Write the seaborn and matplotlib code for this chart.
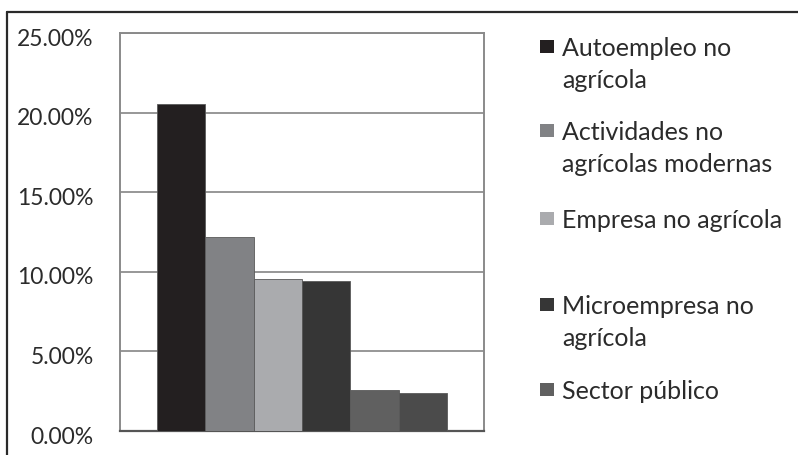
import matplotlib
matplotlib.use('Agg')
import matplotlib.pyplot as plt
import seaborn as sns
import pandas as pd
from matplotlib.patches import Rectangle
from matplotlib.lines import Line2D
from matplotlib.transforms import ScaledTranslation
from matplotlib.ticker import FuncFormatter

# Datos (porcentajes)
series = ["Autoempleo no agrícola", "Actividades no agrícolas modernas",
          "Empresa no agrícola", "Microempresa no agrícola",
          "Sector público", "Sin etiqueta"]
valores = [20.55, 12.2, 9.55, 9.4, 2.55, 2.4]
colores = ['#231f20', '#818285', '#aaabae', '#363636', '#606060', '#4b4b4b']
# Etiquetas visibles en la leyenda (la sexta serie no aparece)
etiquetas = [["Autoempleo no", "agrícola"], ["Actividades no", "agrícolas modernas"],
             ["Empresa no agrícola"], ["Microempresa no", "agrícola"], ["Sector público"]]
ticks_y = [0, 5, 10, 15, 20, 25]

sns.set_style('white')
plt.rcParams['font.family'] = ['Lato', 'DejaVu Sans']

W, H = 798, 455
fig = plt.figure(figsize=(W / 100, H / 100), dpi=100)
ax = fig.add_axes([120 / W, 1 - 431 / H, 364 / W, 398 / H])

df = pd.DataFrame({'serie': series, 'valor': valores})
sns.barplot(data=df, x='serie', y='valor', hue='serie', palette=colores,
            saturation=1, width=1.0, edgecolor='#5a5a5a', linewidth=0.6,
            legend=False, ax=ax, zorder=3)

ax.set_xlim(-1.266, 6.266)
ax.set_ylim(0, 25)
ax.set_yticks(ticks_y)
ax.yaxis.set_major_formatter(FuncFormatter(lambda v, p: f"{v:.2f}%"))
ax.set_xticks([])
ax.set_xlabel('')
ax.set_ylabel('')
ax.tick_params(axis='y', length=0, pad=19, labelsize=16.5, labelcolor='#2b2b2b')
for lab in ax.get_yticklabels():
    lab.set_transform(lab.get_transform() + ScaledTranslation(0, -4 / 100, fig.dpi_scale_trans))
ax.grid(axis='y', color='#8f8f8f', linewidth=1.3, zorder=0)
ax.set_axisbelow(True)
for s in ['left', 'top', 'right']:
    ax.spines[s].set_color('#8a8a8a')
    ax.spines[s].set_linewidth(1.4)
ax.spines['bottom'].set_color('#555555')
ax.spines['bottom'].set_linewidth(1.6)

# Leyenda manual (marcador alineado con la primera línea)
base_y = [56, 140, 228, 314, 399]
for lineas, col, by in zip(etiquetas, colores, base_y):
    fig.patches.append(Rectangle((540 / W, 1 - (by - 3) / H), 14 / W, 13 / H,
                                 transform=fig.transFigure, facecolor=col,
                                 edgecolor='none'))
    for i, linea in enumerate(lineas):
        fig.text(562 / W, 1 - (by + 32 * i) / H, linea, fontsize=18,
                 color='#2b2b2b', va='baseline', ha='left')

# Marco exterior
fig.add_artist(Line2D([7 / W, 1], [1 - 12 / H, 1 - 12 / H], color='#2a2a2a',
                      linewidth=1.6, transform=fig.transFigure))
fig.add_artist(Line2D([7 / W, 7 / W], [0, 1 - 12 / H], color='#2a2a2a',
                      linewidth=1.6, transform=fig.transFigure))

fig.savefig('out.png', dpi=100)
